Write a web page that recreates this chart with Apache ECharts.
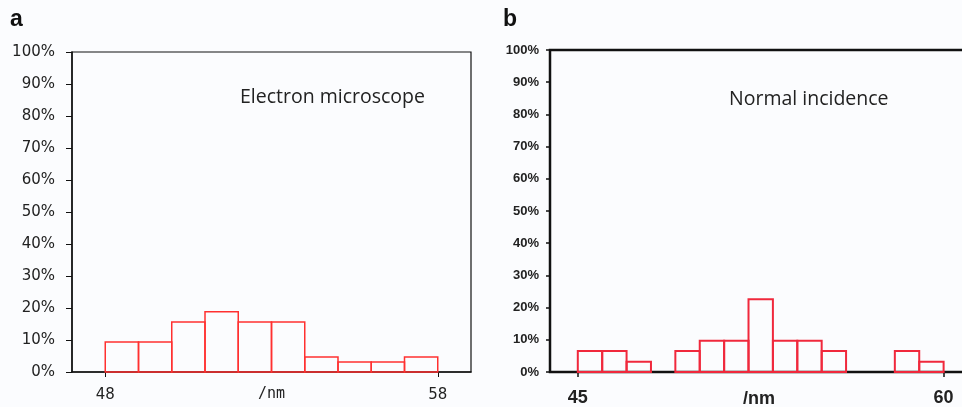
<!DOCTYPE html>
<html>
<head>
<meta charset="utf-8">
<script src="https://cdn.jsdelivr.net/npm/echarts@6/dist/echarts.min.js"></script>
<style>
  html, body { margin: 0; padding: 0; background: #fbfcfe; }
  #chart { width: 962px; height: 407px; }
</style>
</head>
<body>
<div id="chart"></div>
<script>
// panel a: electron microscope, bins of 1 nm
var binsA = [48, 49, 50, 51, 52, 53, 54, 55, 56, 57]
var pctA = [9.4, 9.4, 15.6, 18.8, 15.6, 15.6, 4.7, 3.1, 3.1, 4.7]
var xTicksA = [48, 58]

// panel b: normal incidence
var binsB = [45, 46, 47, 48, 49, 50, 51, 52, 53, 54, 55, 56, 57, 58, 59]
var pctB = [6.5, 6.5, 3.2, 0, 6.5, 9.7, 9.7, 22.6, 9.7, 9.7, 6.5, 0, 0, 6.5, 3.2]
var xTicksB = [45, 60]

var binWidth = 1

function toRows (bins, pct) {
  return bins.map(function (b, i) { return [b, b + binWidth, pct[i]] })
}

function histItem (color, lw) {
  return function (params, api) {
    var y = api.value(2)
    if (!y) return null
    var p0 = api.coord([api.value(0), 0])
    var p1 = api.coord([api.value(1), y])
    return {
      type: 'rect',
      shape: { x: p0[0], y: p1[1], width: p1[0] - p0[0], height: p0[1] - p1[1] },
      style: { fill: 'none', stroke: color, lineWidth: lw }
    }
  }
}

var fontA = 'DejaVu Sans'
var fontB = "'Liberation Sans Narrow', 'Liberation Sans', Arial"

var myChart = echarts.init(document.getElementById('chart'))

var option = {
  backgroundColor: '#fbfcfe',
  animation: false,
  graphic: [
    { type: 'text', left: 10, top: 8, style: { text: 'a', font: 'bold 23px "Liberation Sans"', fill: '#111' } },
    { type: 'text', left: 503, top: 8, style: { text: 'b', font: 'bold 23px "Liberation Sans"', fill: '#111' } },
    { type: 'text', left: 240, top: 87, style: { text: 'Electron microscope', font: '19.5px "Open Sans"', fill: '#222' } },
    { type: 'text', left: 729, top: 89, style: { text: 'Normal incidence', font: '19.5px "Open Sans"', fill: '#222' } }
  ],
  grid: [
    { left: 72, top: 52, width: 399, height: 320, outerBoundsMode: 'none', show: true, borderColor: '#111', borderWidth: 1.2, backgroundColor: 'transparent' },
    { left: 550, top: 50, width: 418, height: 322, outerBoundsMode: 'none', show: true, borderColor: '#111', borderWidth: 2.5, backgroundColor: 'transparent' }
  ],
  xAxis: [
    {
      gridIndex: 0, type: 'value', min: 47, max: 59,
      name: '/nm', nameLocation: 'middle', nameGap: 15, nameMoveOverlap: false,
      nameTextStyle: { fontFamily: 'DejaVu Sans Mono', fontSize: 15, color: '#222' },
      axisLine: { lineStyle: { color: '#111', width: 1.5 } },
      axisTick: { show: true, length: 5, customValues: xTicksA, lineStyle: { color: '#111' } },
      axisLabel: { customValues: xTicksA, margin: 16, fontFamily: fontA, fontSize: 15, color: '#222' },
      splitLine: { show: false }
    },
    {
      gridIndex: 1, type: 'value', min: 43.86, max: 61,
      name: '/nm', nameLocation: 'middle', nameGap: 18, nameMoveOverlap: false,
      nameTextStyle: { fontFamily: fontB, fontWeight: 'bold', fontSize: 18, color: '#222' },
      axisLine: { lineStyle: { color: '#111', width: 2 } },
      axisTick: { show: true, length: 5, customValues: xTicksB, lineStyle: { color: '#111', width: 1.5 } },
      axisLabel: { customValues: xTicksB, margin: 17, fontFamily: fontB, fontWeight: 'bold', fontSize: 18, color: '#222' },
      splitLine: { show: false }
    }
  ],
  yAxis: [
    {
      gridIndex: 0, type: 'value', min: 0, max: 100, interval: 10,
      axisLine: { show: true, lineStyle: { color: '#111', width: 1.5 } },
      axisTick: { show: true, length: 6, lineStyle: { color: '#111' } },
      axisLabel: { formatter: '{value}%', margin: 17, fontFamily: fontA, fontSize: 15, color: '#222' },
      splitLine: { show: false }
    },
    {
      gridIndex: 1, type: 'value', min: 0, max: 100, interval: 10,
      axisLine: { show: true, lineStyle: { color: '#111', width: 2 } },
      axisTick: { show: true, length: 4, lineStyle: { color: '#111', width: 1.5 } },
      axisLabel: { formatter: '{value}%', margin: 11, fontFamily: "'Liberation Sans', Arial", fontWeight: 'bold', fontSize: 13, color: '#222' },
      splitLine: { show: false }
    }
  ],
  series: [
    {
      type: 'custom', xAxisIndex: 0, yAxisIndex: 0,
      renderItem: histItem('#ff3030', 1.5),
      encode: { x: [0, 1], y: 2 },
      data: toRows(binsA, pctA)
    },
    {
      type: 'custom', xAxisIndex: 1, yAxisIndex: 1,
      renderItem: histItem('#f0283c', 2),
      encode: { x: [0, 1], y: 2 },
      data: toRows(binsB, pctB)
    }
  ]
}
myChart.setOption(option, true)
</script>
</body>
</html>
